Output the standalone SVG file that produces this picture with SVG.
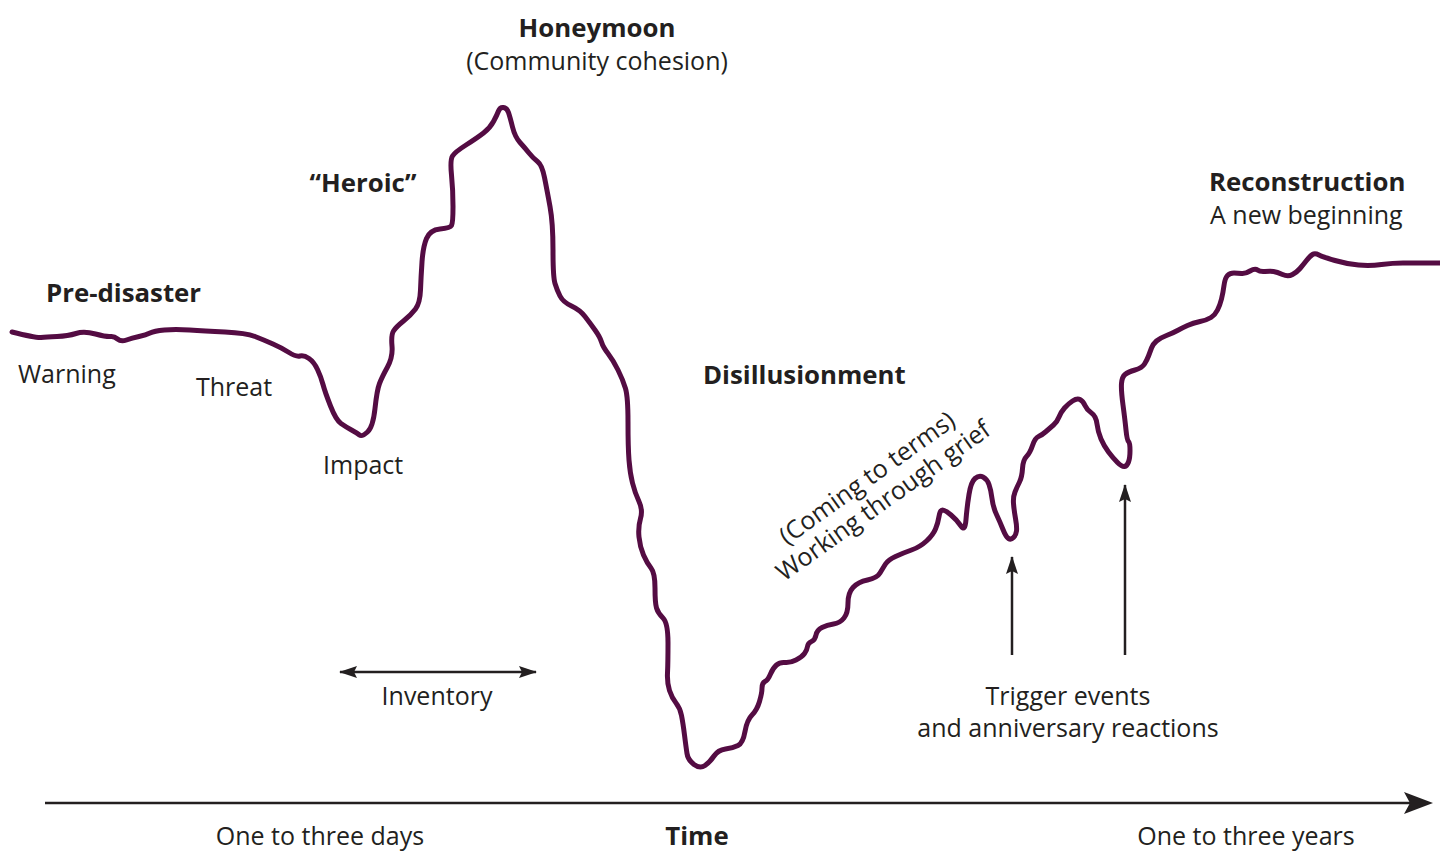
<svg xmlns="http://www.w3.org/2000/svg" width="1440" height="851" viewBox="0 0 1440 851">
<style>
text{font-family:"Open Sans","Liberation Sans",sans-serif;fill:#231f20}
.b{font-weight:700;font-size:25.8px}
.r{font-weight:400;font-size:25px}
.m{text-anchor:middle}
.arr{stroke:#231f20;stroke-width:2.5;fill:none}
.curve{fill:none;stroke:#540c43;stroke-width:5;stroke-linejoin:round;stroke-linecap:round}
</style>
<defs>
<marker id="ah" viewBox="0 0 18 12" refX="17" refY="6" markerWidth="18" markerHeight="12" markerUnits="userSpaceOnUse" orient="auto-start-reverse">
<path d="M0,0 L18,6 L0,12 L3,6 Z" fill="#231f20"/>
</marker>
</defs>
<rect width="1440" height="851" fill="#fff"/>
<g id="curve">
<path class="curve" d="M12,332 Q36,338 41,337.5 T57,336.5 T76,333.5 T95.5,334 T110.5,336.5 T117.5,339 T126.5,340 T139,336.5 T150,333 T164.5,330 T189.5,330 T225,332 T255,336.5 T273,344 T289,352.5 T300,356 T309,358.5 T317.5,369.5 T323,384.5 T330.5,406 T341,423.5 T351.5,430 T359.5,435 T367.5,432 T375,408.5 T379.5,383.5 T387.5,367 T392,346 T393.5,331 T403.5,321 T415.5,309 T420.5,290 T422,262 T426.5,238.5 T440,229 T451.5,225.5 T453,206.5 T451.5,175 T452.5,156 T466,145 T483.5,133 T493.5,121.5 T498.5,111 T503.5,107.5 T508.5,112.5 T512.5,127 T520,142.5 T529,153 T537.5,161.5 T544.5,177.5 T550,206.5 T553,250 T555,283.5 T560,296 T571.5,306 T585,316.5 T595,330 T601.5,342 T608,353.5 T618,370 T625.5,388.5 T628,422 T629,460 T632.5,483 T639,501.5 T640.5,518.5 T639,537 T643.5,555 T651,568 T655,588 T656.5,608 T663,618 T668,643 T667.5,673 T669.5,690.5 T676,703 T681.5,715.5 T684.5,735 T687,753.5 T694,764.5 T705,765.5 T714,756 T725.5,749 T738,745.5 T745,731.5 T752,715 T759.5,701.5 T762,688 T765,681.5 T770.5,674 T776.5,665 T785,662.5 T796,660 T804.5,653.5 T807.5,646.5 T811.5,641.5 T816,635 T822,627.5 T833.5,624 T844,618 T848,603 T853,587.5 T867.5,580 T880,573 T885.5,564 T895.5,556.5 T911.5,550 T926.5,541 T935.5,529 T939,516.5 T942.5,510 T951,515 T961,526 T966,519.5 T969,494.5 T975,478.5 T983,477 T989,484.5 T992,498.5 T996.5,514.5 T1003,529.5 T1008.5,538.5 T1013.5,537.5 T1016.5,531 T1015.5,518.5 T1013.5,503.5 T1015,492 T1019.5,482 T1022.5,468.5 T1026.5,456.5 T1032.5,445.5 T1038.5,436.5 T1046,431.5 T1053.5,425 T1059,417 T1064.5,408 T1072.5,401 T1080,399.5 T1085,405.5 T1091.5,413 T1097,424 T1101,439 T1108.5,452 T1117.5,462.5 T1124.5,466.5 T1128.5,462 T1130,450.5 T1128.5,441.5 T1126,430 T1123,405 T1121.5,383.5 T1125,374.5 T1135,370 T1144.5,364 T1148.5,356 T1151.5,348 T1156.5,341 T1166.5,335.5 T1177.5,330.5 T1187.5,325.5 T1200,321.5 T1211,317.5 T1217.5,310 T1221.5,299 T1224,285.5 T1227.5,275.5 T1234,273 T1241.5,273.5 T1250,271 T1257.5,270 T1265,271.5 T1273.5,271.5 T1282.5,274.5 T1292.5,274.5 T1300,268.5 T1306.5,260.5 T1312.5,254.5 T1319,255 T1335,260.5 T1358.5,265 T1381.5,264.5 T1403,263 T1440,263"/>
</g>
<g id="connectors">
<line class="arr" x1="45" y1="803" x2="1410" y2="803" stroke-width="5"/>
<path d="M1404,792 L1433,803 L1404,814 L1410,803 Z" fill="#231f20"/>
<line class="arr" x1="340" y1="672" x2="536" y2="672" marker-start="url(#ah)" marker-end="url(#ah)"/>
<line class="arr" x1="1012" y1="655" x2="1012" y2="557" marker-end="url(#ah)"/>
<line class="arr" x1="1125" y1="655" x2="1125" y2="485" marker-end="url(#ah)"/>
</g>
<g id="honeymoon"><text class="b m" x="597" y="37">Honeymoon</text><text class="r m" x="597" y="70">(Community cohesion)</text></g>
<g id="heroic"><text class="b m" x="363" y="192">“Heroic”</text></g>
<g id="predisaster"><text class="b" x="46" y="302">Pre-disaster</text></g>
<g id="warning"><text class="r" x="18" y="383">Warning</text></g>
<g id="threat"><text class="r" x="196" y="396">Threat</text></g>
<g id="impact"><text class="r" x="323" y="474">Impact</text></g>
<g id="disillusionment"><text class="b" x="703" y="384">Disillusionment</text></g>
<g id="reconstruction"><text class="b" x="1209" y="191">Reconstruction</text><text class="r" x="1210" y="224">A new beginning</text></g>
<g id="grief" transform="translate(872,485) rotate(-35.5)"><text class="r m" x="0" y="0">(Coming to terms)</text><text class="r m" x="0" y="28">Working through grief</text></g>
<g id="inventory"><text class="r m" x="437" y="705">Inventory</text></g>
<g id="trigger"><text class="r m" x="1068" y="705">Trigger events</text><text class="r m" x="1068" y="737">and anniversary reactions</text></g>
<g id="axis-labels"><text class="r m" x="320" y="845">One to three days</text><text class="b m" x="697" y="845">Time</text><text class="r m" x="1246" y="845">One to three years</text></g>
</svg>
